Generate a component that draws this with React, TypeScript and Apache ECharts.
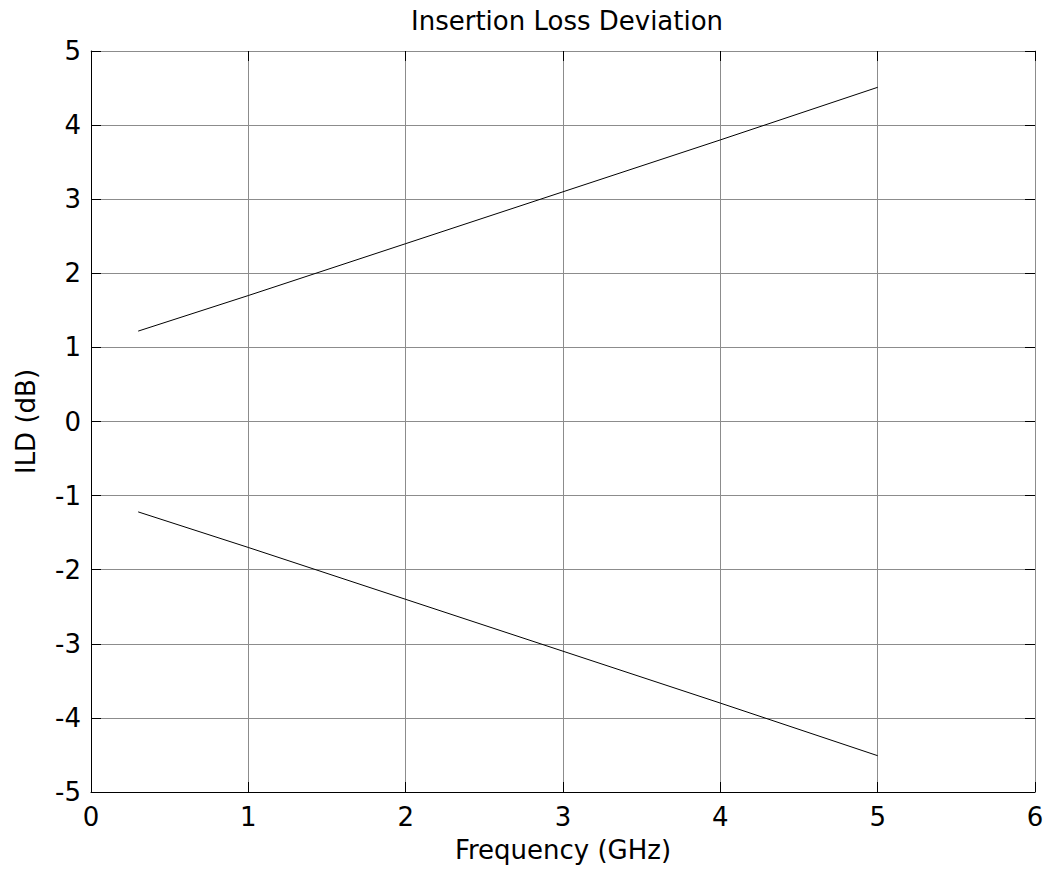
import React, { useEffect, useRef } from "react";
import * as echarts from "echarts";

const titleText = "Insertion Loss Deviation";
const xName = "Frequency (GHz)";
const yName = "ILD (dB)";
const frequency = [0.3, 1, 2, 3, 4, 5];
const upperLimit = [1.22, 1.7, 2.4, 3.1, 3.8, 4.51];
const lowerLimit = [-1.22, -1.7, -2.4, -3.1, -3.8, -4.51];

const FONT = "DejaVu Sans";

export default function App() {
  const ref = useRef<HTMLDivElement>(null);
  useEffect(() => {
    if (!ref.current) return;
    const chart = echarts.init(ref.current, undefined, { renderer: "svg" });
    const hiddenLabel = { show: false };
    const innerTick = { show: true, inside: true, length: 10, lineStyle: { color: "#000", width: 1 } };
    chart.setOption({
      animation: false,
      backgroundColor: "#fff",
      title: {
        text: titleText,
        left: 406,
        top: 3,
        textStyle: { fontFamily: FONT, fontSize: 26, fontWeight: "normal", color: "#000" },
      },
      grid: { left: 91, right: 12, top: 51, bottom: 86, containLabel: false },
      xAxis: [
        {
          type: "value",
          min: 0,
          max: 6,
          interval: 1,
          position: "bottom",
          name: xName,
          nameLocation: "middle",
          nameGap: 45,
          nameTextStyle: { fontFamily: FONT, fontSize: 26, color: "#000" },
          axisLine: { show: true, onZero: false, lineStyle: { color: "#000", width: 1 } },
          axisTick: innerTick,
          axisLabel: { fontFamily: FONT, fontSize: 26, color: "#000", margin: 12 },
          splitLine: { show: true, lineStyle: { color: "#8c8c8c", width: 1 } },
        },
        {
          type: "value",
          min: 0,
          max: 6,
          interval: 1,
          position: "top",
          axisLine: { show: true, onZero: false, lineStyle: { color: "#8c8c8c", width: 1 } },
          axisTick: innerTick,
          axisLabel: hiddenLabel,
          splitLine: { show: false },
        },
      ],
      yAxis: [
        {
          type: "value",
          min: -5,
          max: 5,
          interval: 1,
          position: "left",
          name: yName,
          nameLocation: "middle",
          nameGap: 52,
          nameRotate: 90,
          nameTextStyle: { fontFamily: FONT, fontSize: 26, color: "#000" },
          axisLine: { show: true, onZero: false, lineStyle: { color: "#000", width: 1 } },
          axisTick: innerTick,
          axisLabel: { fontFamily: FONT, fontSize: 26, color: "#000", margin: 10 },
          splitLine: { show: true, lineStyle: { color: "#8c8c8c", width: 1 } },
        },
        {
          type: "value",
          min: -5,
          max: 5,
          interval: 1,
          position: "right",
          axisLine: { show: true, onZero: false, lineStyle: { color: "#8c8c8c", width: 1 } },
          axisTick: innerTick,
          axisLabel: hiddenLabel,
          splitLine: { show: false },
        },
      ],
      series: [
        {
          name: "Upper",
          type: "line",
          xAxisIndex: 0,
          yAxisIndex: 0,
          data: frequency.map((f, i) => [f, upperLimit[i]]),
          showSymbol: false,
          symbol: "none",
          lineStyle: { color: "#000", width: 1 },
        },
        {
          name: "Lower",
          type: "line",
          xAxisIndex: 0,
          yAxisIndex: 0,
          data: frequency.map((f, i) => [f, lowerLimit[i]]),
          showSymbol: false,
          symbol: "none",
          lineStyle: { color: "#000", width: 1 },
        },
      ],
    });
    return () => chart.dispose();
  }, []);
  return (
    <div
      ref={ref}
      style={{ position: "fixed", left: 0, top: 0, width: 1047, height: 878, background: "#fff" }}
    />
  );
}
